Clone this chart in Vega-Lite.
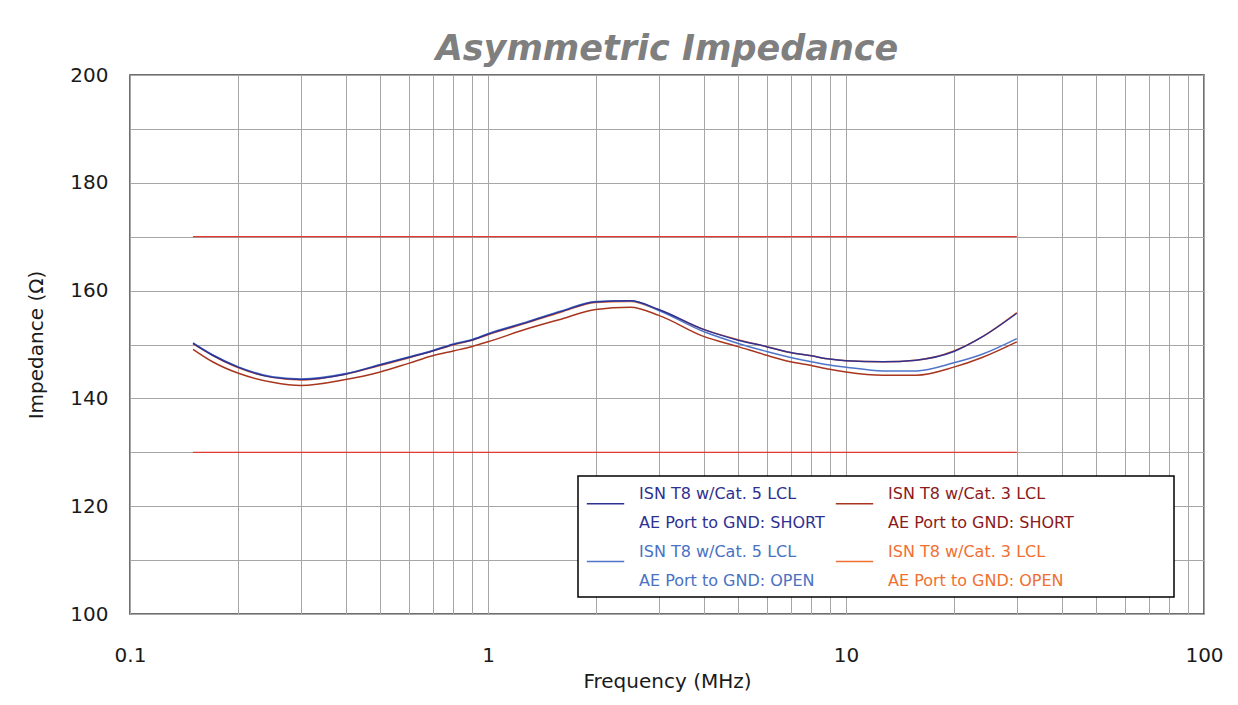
{
  "$schema": "https://vega.github.io/schema/vega-lite/v6.json",
  "autosize": "none",
  "width": 1074,
  "height": 539,
  "padding": {"left": 130, "top": 75, "right": 34, "bottom": 91},
  "background": "white",
  "title": {
    "text": "Asymmetric Impedance",
    "font": "DejaVu Sans",
    "fontSize": 35,
    "fontWeight": "bold",
    "fontStyle": "italic",
    "color": "#7f7f7f",
    "offset": -2,
    "anchor": "middle"
  },
  "config": {
    "view": {"stroke": "#404040", "strokeWidth": 1.5},
    "font": "DejaVu Sans",
    "axis": {
      "gridColor": "#a6a6a6",
      "gridOpacity": 1,
      "gridWidth": 1,
      "domain": false,
      "ticks": false,
      "labelFontSize": 20,
      "labelColor": "#1a1a1a",
      "titleFontSize": 20,
      "titleFontWeight": "normal",
      "titleColor": "#1a1a1a"
    }
  },
  "datasets": {
    "limits": [
      {"f1": 0.15, "f2": 30, "z": 170},
      {"f1": 0.15, "f2": 30, "z": 130}
    ],
    "curves": [
      {"s": "c3o", "f": 0.15, "z": 150.1}, {"s": "c3o", "f": 0.17, "z": 148.0}, {"s": "c3o", "f": 0.2, "z": 145.7},
      {"s": "c3o", "f": 0.25, "z": 143.9}, {"s": "c3o", "f": 0.3, "z": 143.4}, {"s": "c3o", "f": 0.4, "z": 144.5},
      {"s": "c3o", "f": 0.5, "z": 146.1}, {"s": "c3o", "f": 0.6, "z": 147.5}, {"s": "c3o", "f": 0.7, "z": 148.8},
      {"s": "c3o", "f": 0.8, "z": 149.9}, {"s": "c3o", "f": 0.9, "z": 150.8}, {"s": "c3o", "f": 1.0, "z": 151.8},
      {"s": "c3o", "f": 1.3, "z": 154.1}, {"s": "c3o", "f": 1.6, "z": 156.0}, {"s": "c3o", "f": 2.0, "z": 157.8},
      {"s": "c3o", "f": 2.5, "z": 158.0}, {"s": "c3o", "f": 3, "z": 156.4}, {"s": "c3o", "f": 4, "z": 152.8},
      {"s": "c3o", "f": 5, "z": 150.9}, {"s": "c3o", "f": 6, "z": 149.6}, {"s": "c3o", "f": 7, "z": 148.5},
      {"s": "c3o", "f": 8, "z": 147.9}, {"s": "c3o", "f": 9, "z": 147.3}, {"s": "c3o", "f": 10, "z": 147.0},
      {"s": "c3o", "f": 12.7, "z": 146.8}, {"s": "c3o", "f": 15.7, "z": 147.1}, {"s": "c3o", "f": 20, "z": 148.8},
      {"s": "c3o", "f": 24, "z": 151.4}, {"s": "c3o", "f": 30, "z": 155.9},

      {"s": "c5o", "f": 0.15, "z": 150.3}, {"s": "c5o", "f": 0.17, "z": 148.1}, {"s": "c5o", "f": 0.2, "z": 145.9},
      {"s": "c5o", "f": 0.25, "z": 144.0}, {"s": "c5o", "f": 0.3, "z": 143.6}, {"s": "c5o", "f": 0.4, "z": 144.6},
      {"s": "c5o", "f": 0.5, "z": 146.3}, {"s": "c5o", "f": 0.6, "z": 147.7}, {"s": "c5o", "f": 0.7, "z": 148.9},
      {"s": "c5o", "f": 0.8, "z": 150.1}, {"s": "c5o", "f": 0.9, "z": 150.9}, {"s": "c5o", "f": 1.0, "z": 152.0},
      {"s": "c5o", "f": 1.3, "z": 154.3}, {"s": "c5o", "f": 1.6, "z": 156.2}, {"s": "c5o", "f": 2.0, "z": 158.0},
      {"s": "c5o", "f": 2.5, "z": 158.1}, {"s": "c5o", "f": 3, "z": 156.3}, {"s": "c5o", "f": 4, "z": 152.4},
      {"s": "c5o", "f": 5, "z": 150.2}, {"s": "c5o", "f": 6, "z": 148.7}, {"s": "c5o", "f": 7, "z": 147.6},
      {"s": "c5o", "f": 8, "z": 146.8}, {"s": "c5o", "f": 9, "z": 146.2}, {"s": "c5o", "f": 10, "z": 145.8},
      {"s": "c5o", "f": 12.7, "z": 145.1}, {"s": "c5o", "f": 15.7, "z": 145.1}, {"s": "c5o", "f": 20, "z": 146.6},
      {"s": "c5o", "f": 24, "z": 148.2}, {"s": "c5o", "f": 30, "z": 151.1},

      {"s": "c3s", "f": 0.15, "z": 149.1}, {"s": "c3s", "f": 0.17, "z": 146.8}, {"s": "c3s", "f": 0.2, "z": 144.7},
      {"s": "c3s", "f": 0.25, "z": 143.0}, {"s": "c3s", "f": 0.3, "z": 142.4}, {"s": "c3s", "f": 0.4, "z": 143.5},
      {"s": "c3s", "f": 0.5, "z": 144.9}, {"s": "c3s", "f": 0.6, "z": 146.5}, {"s": "c3s", "f": 0.7, "z": 147.9},
      {"s": "c3s", "f": 0.8, "z": 148.8}, {"s": "c3s", "f": 0.9, "z": 149.6}, {"s": "c3s", "f": 1.0, "z": 150.5},
      {"s": "c3s", "f": 1.3, "z": 153.0}, {"s": "c3s", "f": 1.6, "z": 154.7}, {"s": "c3s", "f": 2.0, "z": 156.5},
      {"s": "c3s", "f": 2.5, "z": 156.9}, {"s": "c3s", "f": 3, "z": 155.4}, {"s": "c3s", "f": 4, "z": 151.5},
      {"s": "c3s", "f": 5, "z": 149.6}, {"s": "c3s", "f": 6, "z": 148.0}, {"s": "c3s", "f": 7, "z": 146.8},
      {"s": "c3s", "f": 8, "z": 146.1}, {"s": "c3s", "f": 9, "z": 145.4}, {"s": "c3s", "f": 10, "z": 144.9},
      {"s": "c3s", "f": 12.7, "z": 144.3}, {"s": "c3s", "f": 15.7, "z": 144.3}, {"s": "c3s", "f": 20, "z": 145.8},
      {"s": "c3s", "f": 24, "z": 147.6}, {"s": "c3s", "f": 30, "z": 150.5},

      {"s": "c5s", "f": 0.15, "z": 150.2}, {"s": "c5s", "f": 0.17, "z": 148.0}, {"s": "c5s", "f": 0.2, "z": 145.8},
      {"s": "c5s", "f": 0.25, "z": 143.9}, {"s": "c5s", "f": 0.3, "z": 143.5}, {"s": "c5s", "f": 0.4, "z": 144.5},
      {"s": "c5s", "f": 0.5, "z": 146.2}, {"s": "c5s", "f": 0.6, "z": 147.6}, {"s": "c5s", "f": 0.7, "z": 148.8},
      {"s": "c5s", "f": 0.8, "z": 150.0}, {"s": "c5s", "f": 0.9, "z": 150.8}, {"s": "c5s", "f": 1.0, "z": 151.9},
      {"s": "c5s", "f": 1.3, "z": 154.2}, {"s": "c5s", "f": 1.6, "z": 156.1}, {"s": "c5s", "f": 2.0, "z": 157.9},
      {"s": "c5s", "f": 2.5, "z": 158.1}, {"s": "c5s", "f": 3, "z": 156.5}, {"s": "c5s", "f": 4, "z": 152.8},
      {"s": "c5s", "f": 5, "z": 150.8}, {"s": "c5s", "f": 6, "z": 149.6}, {"s": "c5s", "f": 7, "z": 148.5},
      {"s": "c5s", "f": 8, "z": 147.9}, {"s": "c5s", "f": 9, "z": 147.3}, {"s": "c5s", "f": 10, "z": 147.0},
      {"s": "c5s", "f": 12.7, "z": 146.8}, {"s": "c5s", "f": 15.7, "z": 147.1}, {"s": "c5s", "f": 20, "z": 148.7},
      {"s": "c5s", "f": 24, "z": 151.4}, {"s": "c5s", "f": 30, "z": 155.8}
    ]
  },
  "layer": [
    {
      "data": {"name": "limits"},
      "mark": {"type": "rule", "color": "#e03a31", "strokeWidth": 1.2},
      "encoding": {
        "x": {
          "field": "f1",
          "type": "quantitative",
          "scale": {"type": "log", "domain": [0.1, 100]},
          "title": "Frequency (MHz)",
          "axis": {
            "values": [0.1, 0.2, 0.3, 0.4, 0.5, 0.6, 0.7, 0.8, 0.9, 1, 2, 3, 4, 5, 6, 7, 8, 9, 10, 20, 30, 40, 50, 60, 70, 80, 90, 100],
            "labelExpr": "abs(log(datum.value)/LN10 - round(log(datum.value)/LN10)) < 0.001 ? format(datum.value, '~g') : ''",
            "labelPadding": 31,
            "labelFlush": false,
            "titlePadding": 6
          }
        },
        "x2": {"field": "f2"},
        "y": {
          "field": "z",
          "type": "quantitative",
          "scale": {"domain": [100, 200]},
          "title": "Impedance (Ω)",
          "axis": {
            "values": [100, 110, 120, 130, 140, 150, 160, 170, 180, 190, 200],
            "labelExpr": "datum.value % 20 == 0 ? datum.label : ''",
            "labelPadding": 22,
            "titlePadding": 23
          }
        }
      }
    },
    {
      "data": {"name": "curves"},
      "mark": {"type": "line", "strokeWidth": 1.5, "interpolate": "monotone"},
      "encoding": {
        "x": {"field": "f", "type": "quantitative"},
        "y": {"field": "z", "type": "quantitative"},
        "detail": {"field": "s", "type": "nominal"},
        "color": {
          "field": "s",
          "type": "nominal",
          "scale": {
            "domain": ["c5s", "c3s", "c5o", "c3o"],
            "range": ["#2e3192", "#a8361f", "#4f74c8", "#f07030"]
          },
          "legend": {
            "orient": "none",
            "legendX": 448,
            "legendY": 401,
            "direction": "horizontal",
            "columns": 2,
            "title": null,
            "symbolType": "stroke",
            "symbolSize": 1400,
            "symbolStrokeWidth": 1.5,
            "labelFontSize": 16,
            "labelOffset": 14,
            "labelLimit": 600,
            "columnPadding": 7,
            "rowPadding": 11,
            "padding": 8,
            "strokeColor": "#000000",
            "fillColor": "#ffffff",
            "labelExpr": "datum.value == 'c5s' ? ['ISN T8 w/Cat. 5  LCL', 'AE Port to GND: SHORT'] : datum.value == 'c3s' ? ['ISN T8 w/Cat. 3  LCL', 'AE Port to GND: SHORT                  \u200b'] : datum.value == 'c5o' ? ['ISN T8 w/Cat. 5  LCL', 'AE Port to GND: OPEN'] : ['ISN T8 w/Cat. 3  LCL', 'AE Port to GND: OPEN']",
            "encode": {
              "legend": {
                "update": {
                  "strokeWidth": {"value": 1.5}
                }
              },
              "labels": {
                "update": {
                  "lineHeight": {"value": 29},
                  "dy": {"value": -10},
                  "fill": {"signal": "datum.value == 'c5s' ? '#2e3192' : datum.value == 'c3s' ? '#8b1a1a' : datum.value == 'c5o' ? '#4a72c4' : '#f07030'"}
                }
              }
            }
          }
        }
      }
    }
  ]
}
